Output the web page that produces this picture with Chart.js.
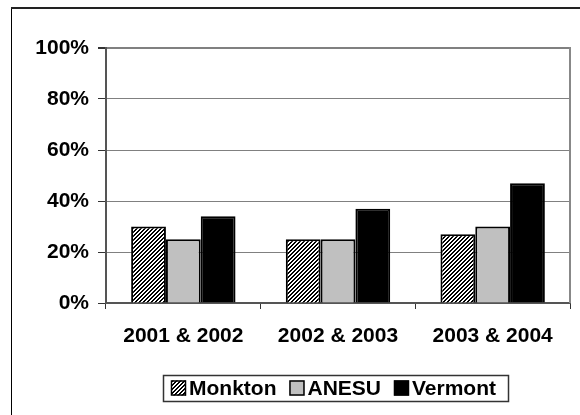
<!DOCTYPE html>
<html>
<head>
<meta charset="utf-8">
<script src="https://cdn.jsdelivr.net/npm/chart.js@4"></script>
<style>
  html, body { margin: 0; padding: 0; background: #fff; }
  #wrap { width: 580px; height: 415px; }
</style>
</head>
<body>
<div id="wrap"><canvas id="chart" width="580" height="415"></canvas></div>
<script>
const categories = ['2001 & 2002', '2002 & 2003', '2003 & 2004'];
const monkton = [30, 25, 27];
const anesu = [25, 25, 30];
const vermont = [34, 37, 47];
const yTicks = [0, 20, 40, 60, 80, 100];

const FONT = "'Liberation Sans', Arial, sans-serif";

// hatch tile for Monkton
function makeHatch() {
  const t = document.createElement('canvas');
  t.width = 4; t.height = 4;
  const c = t.getContext('2d');
  c.fillStyle = '#fff';
  c.fillRect(0, 0, 4, 4);
  c.fillStyle = '#000';
  for (let x = 0; x < 4; x++) {
    for (let y = 0; y < 4; y++) {
      if ((x + y) % 4 < 2) c.fillRect(x, y, 1, 1);
    }
  }
  return t;
}
const ctx = document.getElementById('chart').getContext('2d');
const hatch = ctx.createPattern(makeHatch(), 'repeat');

// outer frame, right border of plot, legend box
const extras = {
  id: 'extras',
  beforeDraw(chart) {
    const c = chart.ctx;
    c.save();
    c.fillStyle = '#fff';
    c.fillRect(0, 0, chart.width, chart.height);
    c.restore();
  },
  afterDraw(chart) {
    const c = chart.ctx;
    const a = chart.chartArea;
    c.save();
    // frame
    c.strokeStyle = '#000';
    c.lineWidth = 1;
    c.beginPath();
    c.moveTo(11.5, chart.height + 5);
    c.lineTo(11.5, 8);
    c.stroke();
    c.strokeStyle = '#222';
    c.lineWidth = 2;
    c.beginPath();
    c.moveTo(11, 8);
    c.lineTo(chart.width + 5, 8);
    c.stroke();
    // right border of plot
    c.strokeStyle = '#888';
    c.lineWidth = 2;
    c.beginPath();
    c.moveTo(a.right, a.top - 1);
    c.lineTo(a.right, a.bottom);
    c.stroke();

    // legend
    c.font = 'bold 21px ' + FONT;
    c.textBaseline = 'middle';
    const boxL = 163, boxT = 375, boxH = 26, sq = 15;
    const cy = boxT + boxH / 2;
    let x = boxL + 8;
    chart.data.datasets.forEach((ds, i) => {
      c.fillStyle = ds.backgroundColor;
      c.fillRect(x, cy - sq / 2, sq, sq);
      c.strokeStyle = '#000';
      c.lineWidth = 1.5;
      c.strokeRect(x + 0.5, cy - sq / 2 + 0.5, sq - 1, sq - 1);
      x += sq + 3;
      c.fillStyle = '#000';
      c.fillText(ds.label, x, cy + 1);
      x += c.measureText(ds.label).width + 13;
    });
    const boxR = x - 13 + 12;
    c.strokeStyle = '#333';
    c.lineWidth = 1.5;
    c.strokeRect(boxL + 0.5, boxT + 0.5, boxR - boxL, boxH);
    c.restore();
  }
};

new Chart(ctx, {
  type: 'bar',
  data: {
    labels: categories,
    datasets: [
      { label: 'Monkton', data: monkton, backgroundColor: hatch },
      { label: 'ANESU', data: anesu, backgroundColor: '#c0c0c0' },
      { label: 'Vermont', data: vermont, backgroundColor: '#000000' }
    ].map(d => Object.assign(d, {
      borderColor: '#000',
      borderWidth: 2,
      barPercentage: 1,
      categoryPercentage: 0.675
    }))
  },
  options: {
    responsive: false,
    animation: false,
    devicePixelRatio: 1,
    layout: { padding: { top: 48, right: 10, left: 0, bottom: 0 } },
    plugins: {
      legend: { display: false },
      tooltip: { enabled: false }
    },
    scales: {
      x: {
        grid: {
          drawOnChartArea: false,
          tickLength: 6,
          tickColor: '#333',
          offset: true
        },
        border: { color: '#555', width: 2 },
        ticks: {
          color: '#000',
          padding: 15,
          font: { family: FONT, size: 21, weight: 'bold' }
        },
        afterFit(s) { s.height = 112; }
      },
      y: {
        min: 0,
        max: 100,
        afterBuildTicks(s) { s.ticks = yTicks.map(v => ({ value: v })); },
        grid: {
          color: '#808080',
          lineWidth: c => (c.tick && c.tick.value === 100 ? 2 : 1),
          tickLength: 8,
          tickColor: '#333'
        },
        border: { color: '#555', width: 2 },
        ticks: {
          color: '#000',
          padding: 9,
          font: { family: FONT, size: 21, weight: 'bold' },
          callback: v => v + '%'
        },
        afterFit(s) { s.width = 106; }
      }
    }
  },
  plugins: [extras]
});
</script>
</body>
</html>
